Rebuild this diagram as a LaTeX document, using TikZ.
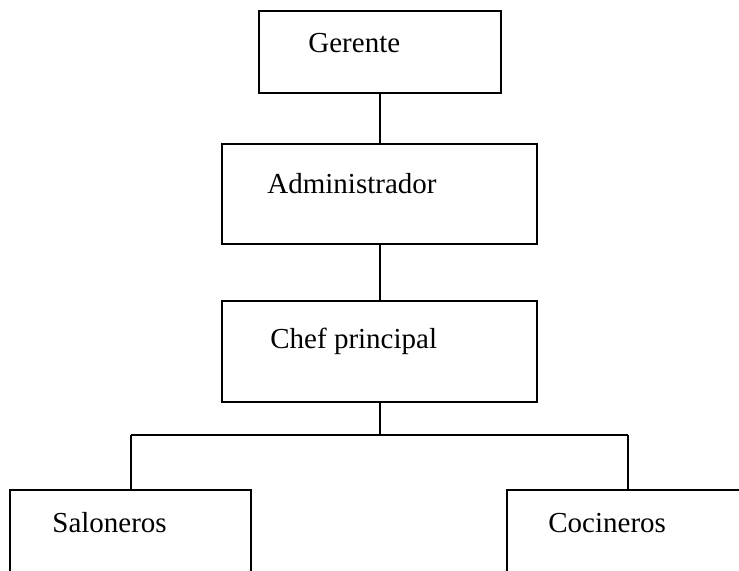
\documentclass[tikz,border=0pt]{standalone}
\usepackage{fontspec}
\setmainfont{Liberation Serif}
\begin{document}
\begin{tikzpicture}[x=0.5pt,y=-0.5pt,
  box/.style={draw, line width=0.9pt, rectangle, inner sep=0pt, outer sep=0pt},
  lbl/.style={anchor=base west, inner sep=0pt, font=\fontsize{14.5}{17}\selectfont},
  conn/.style={line width=0.9pt}]
\clip (0,0) rectangle (739,570);
\fill[white] (0,0) rectangle (739,570);
% boxes
\node[box, minimum width=121pt, minimum height=41pt] (g) at (380,52) {};
\node[box, minimum width=157.5pt, minimum height=50pt] (a) at (379.5,194) {};
\node[box, minimum width=157.5pt, minimum height=50.5pt] (c) at (379.5,351.5) {};
\node[box, minimum width=120.5pt, minimum height=55pt] (s) at (130.5,545) {};
\node[box, minimum width=146.5pt, minimum height=55pt] (k) at (653.5,545) {};
% labels
\node[lbl] (tg) at (308,52) {Gerente};
\node[lbl] (ta) at (267,193) {Administrador};
\node[lbl] (tc) at (270,348) {Chef principal};
\node[lbl] (ts) at (52,532) {Saloneros};
\node[lbl] (tk) at (548,532) {Cocineros};
% connectors
\coordinate (j) at (380,435);
\coordinate (l) at (131,435);
\coordinate (r) at (628,435);
\draw[conn] (g.south) -- (g.south |- a.north);
\draw[conn] (g.south |- a.south) -- (g.south |- c.north);
\draw[conn] (g.south |- c.south) -- (j);
\draw[conn] (l) -- (r);
\draw[conn] (l) -- (l |- s.north);
\draw[conn] (r) -- (r |- k.north);
\end{tikzpicture}
\end{document}
